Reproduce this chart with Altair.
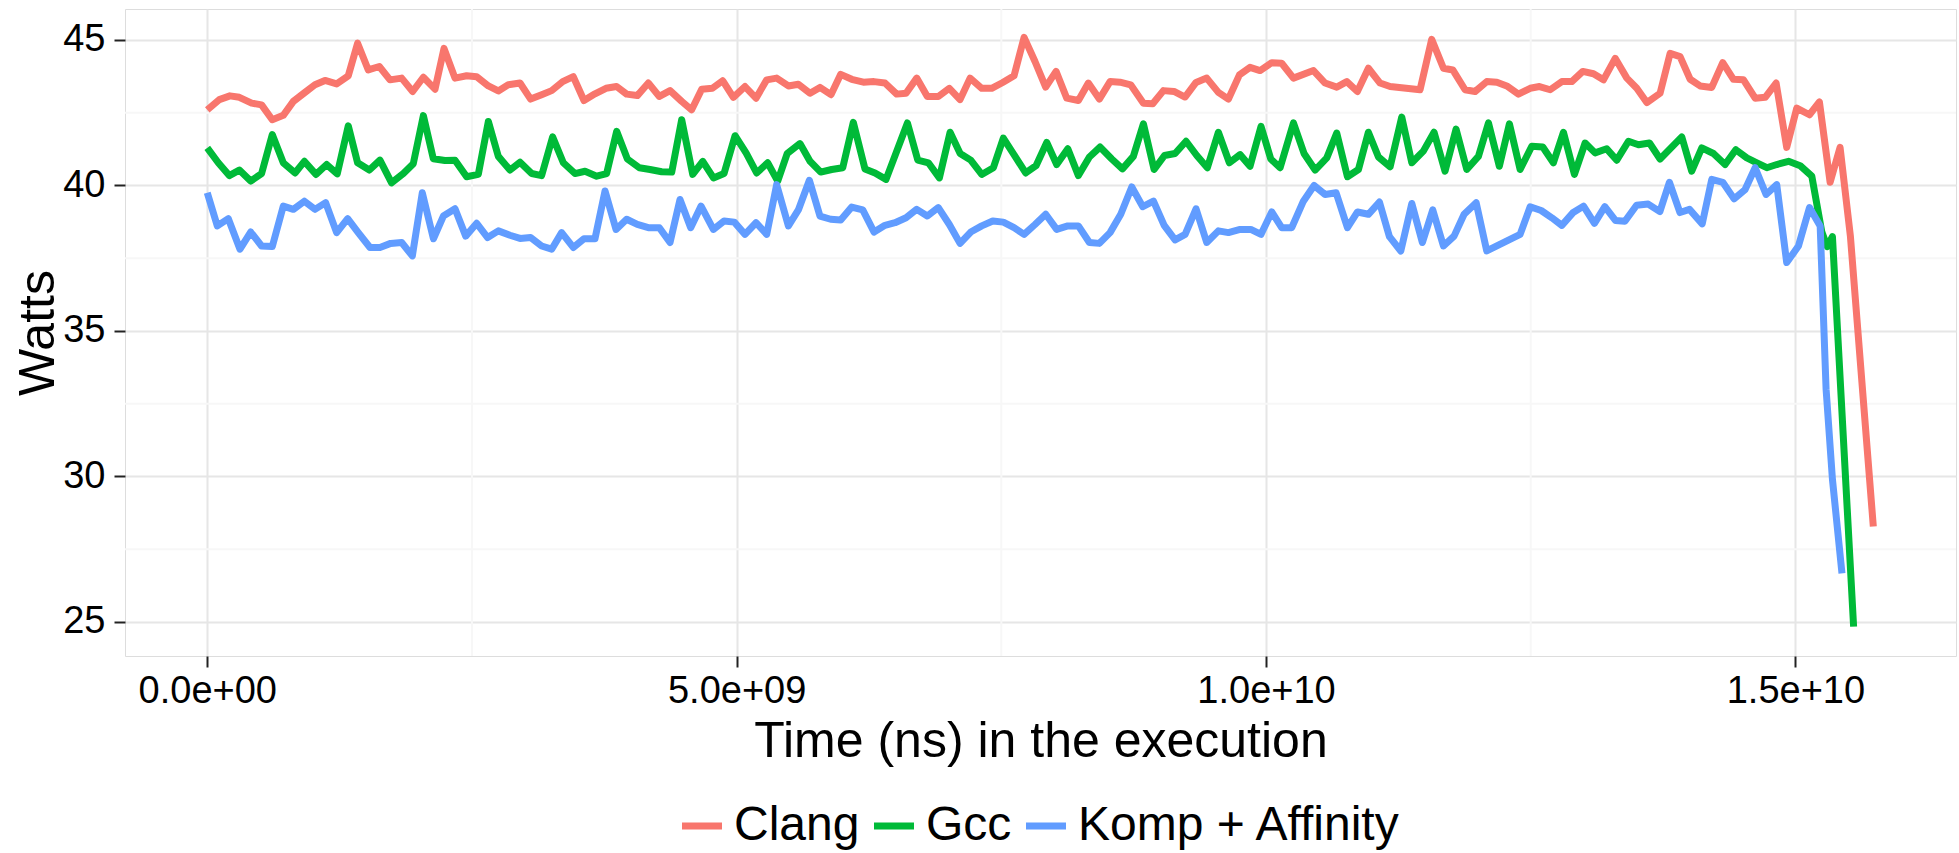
import altair as alt
import pandas as pd

# Series names and their ggplot-style hues
series_names = ["Clang", "Gcc", "Komp + Affinity"]
series_colors = ["#F8766D", "#00BA38", "#619CFF"]

# Sample times (in units of 1e9 ns) and measured power (W) per compiler
clang_t = [0.000, 0.114, 0.214, 0.303, 0.419, 0.513, 0.614, 0.718, 0.813, 0.923,
           1.017, 1.112, 1.222, 1.332, 1.420, 1.521, 1.625, 1.726, 1.836, 1.940,
           2.041, 2.151, 2.236, 2.340, 2.450, 2.545, 2.655, 2.749, 2.843, 2.954,
           3.054, 3.158, 3.253, 3.357, 3.457, 3.558, 3.662, 3.766, 3.866, 3.961,
           4.062, 4.166, 4.270, 4.371, 4.481, 4.575, 4.670, 4.771, 4.868, 4.969,
           5.079, 5.183, 5.284, 5.378, 5.489, 5.583, 5.693, 5.787, 5.891, 5.983,
           6.087, 6.197, 6.297, 6.401, 6.512, 6.600, 6.701, 6.801, 6.905, 7.009,
           7.110, 7.205, 7.315, 7.409, 7.513, 7.620, 7.715, 7.818, 7.919, 8.017,
           8.118, 8.228, 8.322, 8.426, 8.527, 8.621, 8.722, 8.842, 8.930, 9.031,
           9.131, 9.235, 9.339, 9.440, 9.550, 9.645, 9.749, 9.849, 9.944, 10.054,
           10.148, 10.259, 10.448, 10.558, 10.668, 10.763, 10.863, 10.967, 11.077, 11.172,
           11.455, 11.565, 11.676, 11.764, 11.880, 11.975, 12.085, 12.180, 12.274, 12.384,
           12.495, 12.583, 12.684, 12.794, 12.888, 12.992, 13.093, 13.187, 13.298, 13.408,
           13.502, 13.597, 13.722, 13.817, 13.911, 14.006, 14.100, 14.210, 14.314, 14.415,
           14.510, 14.620, 14.715, 14.818, 14.918, 15.013, 15.133, 15.227, 15.328, 15.422,
           15.520, 15.736]
clang_w = [42.60, 42.95, 43.08, 43.03, 42.83, 42.77, 42.26, 42.41, 42.89, 43.20,
           43.46, 43.61, 43.49, 43.77, 44.89, 43.97, 44.09, 43.63, 43.69, 43.23,
           43.72, 43.31, 44.71, 43.69, 43.77, 43.74, 43.42, 43.25, 43.46, 43.52,
           42.97, 43.12, 43.26, 43.57, 43.74, 42.92, 43.15, 43.34, 43.40, 43.14,
           43.09, 43.52, 43.06, 43.26, 42.89, 42.60, 43.31, 43.34, 43.60, 43.03,
           43.40, 43.00, 43.63, 43.69, 43.42, 43.48, 43.17, 43.37, 43.12, 43.82,
           43.65, 43.55, 43.57, 43.52, 43.14, 43.17, 43.69, 43.06, 43.06, 43.34,
           42.95, 43.69, 43.34, 43.34, 43.54, 43.77, 45.09, 44.26, 43.38, 43.92,
           43.00, 42.92, 43.52, 42.97, 43.57, 43.55, 43.46, 42.83, 42.81, 43.26,
           43.23, 43.04, 43.54, 43.69, 43.20, 42.97, 43.80, 44.06, 43.95, 44.22,
           44.20, 43.69, 43.95, 43.52, 43.38, 43.57, 43.23, 44.03, 43.52, 43.40,
           43.29, 45.02, 44.03, 43.97, 43.29, 43.23, 43.57, 43.55, 43.42, 43.14,
           43.34, 43.40, 43.29, 43.57, 43.57, 43.92, 43.84, 43.63, 44.37, 43.69,
           43.34, 42.85, 43.17, 44.54, 44.43, 43.65, 43.42, 43.37, 44.22, 43.65,
           43.63, 43.00, 43.03, 43.52, 41.31, 42.66, 42.43, 42.87, 40.11, 41.31,
           38.24, 28.28]

gcc_t = [0.000, 0.104, 0.208, 0.303, 0.410, 0.513, 0.614, 0.718, 0.829, 0.917,
         1.027, 1.128, 1.228, 1.332, 1.420, 1.531, 1.631, 1.741, 1.852, 1.946,
         2.041, 2.135, 2.245, 2.340, 2.450, 2.560, 2.655, 2.749, 2.859, 2.954,
         3.064, 3.158, 3.262, 3.363, 3.473, 3.568, 3.678, 3.772, 3.867, 3.968,
         4.081, 4.182, 4.292, 4.387, 4.481, 4.585, 4.680, 4.781, 4.881, 4.985,
         5.089, 5.189, 5.293, 5.388, 5.478, 5.598, 5.693, 5.794, 5.898, 6.002,
         6.102, 6.212, 6.307, 6.411, 6.613, 6.711, 6.811, 6.915, 7.016, 7.111,
         7.211, 7.315, 7.425, 7.519, 7.630, 7.730, 7.828, 7.929, 8.023, 8.128,
         8.228, 8.332, 8.432, 8.543, 8.644, 8.747, 8.842, 8.943, 9.041, 9.141,
         9.245, 9.346, 9.446, 9.550, 9.654, 9.755, 9.849, 9.953, 10.045, 10.133,
         10.259, 10.359, 10.464, 10.574, 10.668, 10.769, 10.873, 10.967, 11.062, 11.172,
         11.282, 11.377, 11.486, 11.587, 11.691, 11.795, 11.896, 12.006, 12.101, 12.204,
         12.299, 12.400, 12.510, 12.614, 12.714, 12.809, 12.913, 13.014, 13.108, 13.218,
         13.313, 13.423, 13.518, 13.622, 13.722, 13.927, 14.021, 14.116, 14.226, 14.336,
         14.437, 14.541, 14.636, 14.730, 14.824, 14.935, 15.045, 15.155, 15.250, 15.300,
         15.350, 15.550]
gcc_w = [41.29, 40.78, 40.34, 40.53, 40.15, 40.41, 41.75, 40.78, 40.43, 40.83,
         40.38, 40.72, 40.40, 42.05, 40.78, 40.53, 40.87, 40.09, 40.41, 40.75,
         42.40, 40.92, 40.86, 40.87, 40.30, 40.38, 42.20, 41.00, 40.53, 40.80,
         40.41, 40.34, 41.67, 40.78, 40.41, 40.49, 40.32, 40.41, 41.86, 40.91,
         40.61, 40.55, 40.47, 40.46, 42.26, 40.38, 40.83, 40.26, 40.41, 41.71,
         41.12, 40.43, 40.78, 40.15, 41.10, 41.44, 40.83, 40.46, 40.55, 40.61,
         42.17, 40.57, 40.43, 40.21, 42.15, 40.87, 40.78, 40.26, 41.83, 41.10,
         40.87, 40.38, 40.61, 41.63, 41.00, 40.43, 40.68, 41.48, 40.72, 41.26,
         40.34, 40.98, 41.32, 40.91, 40.57, 41.00, 42.12, 40.55, 41.03, 41.10,
         41.52, 41.03, 40.61, 41.83, 40.78, 41.06, 40.66, 42.03, 40.91, 40.61,
         42.15, 41.10, 40.53, 40.95, 41.80, 40.30, 40.55, 41.83, 40.98, 40.64,
         42.35, 40.78, 41.18, 41.83, 40.49, 41.94, 40.55, 41.00, 42.15, 40.66,
         42.12, 40.55, 41.35, 41.32, 40.78, 41.83, 40.38, 41.46, 41.12, 41.26,
         40.87, 41.52, 41.40, 41.46, 40.91, 41.67, 40.49, 41.29, 41.10, 40.72,
         41.23, 40.95, 40.78, 40.61, 40.72, 40.83, 40.68, 40.32, 38.40, 37.90,
         38.24, 24.84]

komp_t = [0.000, 0.095, 0.199, 0.309, 0.410, 0.513, 0.614, 0.718, 0.813, 0.917,
          1.017, 1.118, 1.222, 1.326, 1.426, 1.537, 1.631, 1.732, 1.836, 1.937,
          2.031, 2.136, 2.230, 2.340, 2.441, 2.545, 2.648, 2.749, 2.859, 2.954,
          3.054, 3.158, 3.253, 3.347, 3.457, 3.558, 3.662, 3.757, 3.861, 3.961,
          4.062, 4.166, 4.270, 4.371, 4.465, 4.566, 4.664, 4.780, 4.881, 4.978,
          5.079, 5.183, 5.284, 5.378, 5.489, 5.583, 5.687, 5.787, 5.888, 5.983,
          6.087, 6.191, 6.298, 6.401, 6.496, 6.600, 6.701, 6.801, 6.905, 7.009,
          7.110, 7.211, 7.315, 7.419, 7.519, 7.620, 7.715, 7.818, 7.919, 8.023,
          8.128, 8.228, 8.332, 8.426, 8.527, 8.628, 8.732, 8.836, 8.937, 9.038,
          9.141, 9.236, 9.339, 9.440, 9.550, 9.645, 9.755, 9.856, 9.953, 10.054,
          10.148, 10.243, 10.353, 10.454, 10.558, 10.662, 10.769, 10.864, 10.967, 11.071,
          11.166, 11.273, 11.377, 11.477, 11.575, 11.676, 11.776, 11.871, 11.985, 12.085,
          12.400, 12.495, 12.599, 12.700, 12.794, 12.898, 12.999, 13.102, 13.200, 13.300,
          13.390, 13.500, 13.610, 13.720, 13.810, 13.910, 14.000, 14.120, 14.210, 14.314,
          14.421, 14.525, 14.620, 14.723, 14.824, 14.918, 15.029, 15.133, 15.234, 15.290,
          15.350, 15.440]
komp_w = [39.75, 38.61, 38.86, 37.81, 38.40, 37.92, 37.90, 39.29, 39.18, 39.46,
          39.18, 39.41, 38.38, 38.86, 38.38, 37.87, 37.87, 38.01, 38.04, 37.58,
          39.75, 38.17, 38.95, 39.20, 38.26, 38.70, 38.21, 38.44, 38.29, 38.18,
          38.21, 37.92, 37.81, 38.38, 37.87, 38.17, 38.17, 39.81, 38.49, 38.84,
          38.66, 38.55, 38.55, 38.04, 39.52, 38.55, 39.29, 38.49, 38.78, 38.74,
          38.32, 38.72, 38.32, 40.03, 38.61, 39.16, 40.18, 38.95, 38.84, 38.81,
          39.26, 39.16, 38.40, 38.63, 38.72, 38.89, 39.18, 38.95, 39.24, 38.66,
          38.01, 38.40, 38.61, 38.78, 38.74, 38.55, 38.32, 38.66, 39.01, 38.49,
          38.61, 38.61, 38.04, 38.01, 38.38, 39.01, 39.95, 39.27, 39.46, 38.63,
          38.13, 38.32, 39.20, 38.04, 38.44, 38.38, 38.49, 38.49, 38.32, 39.09,
          38.55, 38.55, 39.46, 40.00, 39.69, 39.75, 38.55, 39.09, 39.01, 39.43,
          38.24, 37.75, 39.38, 38.04, 39.16, 37.92, 38.26, 39.01, 39.41, 37.75,
          38.32, 39.27, 39.14, 38.89, 38.63, 39.06, 39.29, 38.70, 39.27, 38.80,
          38.77, 39.32, 39.36, 39.10, 40.11, 39.07, 39.18, 38.68, 40.21, 40.11,
          39.54, 39.86, 40.61, 39.69, 40.03, 37.35, 37.92, 39.24, 38.61, 33.00,
          29.90, 26.67]

# Axis ticks, labels and minor grid positions
x_ticks = [0, 5e9, 1e10, 1.5e10]
x_tick_labels = ["0.0e+00", "5.0e+09", "1.0e+10", "1.5e+10"]
y_ticks = [25, 30, 35, 40, 45]
x_minor = [2.5e9, 7.5e9, 1.25e10]
y_minor = [27.5, 32.5, 37.5, 42.5]

rows = []
for name, ts, ws in zip(series_names, [clang_t, gcc_t, komp_t], [clang_w, gcc_w, komp_w]):
    for t, w in zip(ts, ws):
        rows.append({"time": t * 1e9, "watts": w, "compiler": name})
df = pd.DataFrame(rows)

FONT = "Liberation Sans"
W, H = 1831, 647
x_scale = alt.Scale(domain=[-0.777e9, 16.517e9], nice=False, zero=False)
y_scale = alt.Scale(domain=[23.83, 46.065], nice=False, zero=False)

label_expr = " : ".join(
    f"datum.value == {v:.0f} ? '{lab}'" for v, lab in zip(x_ticks, x_tick_labels)
) + " : ''"

x_axis = alt.Axis(
    values=x_ticks, labelExpr=label_expr, grid=True, gridColor="#e6e6e6", gridWidth=2,
    tickSize=11, tickColor="#222222", tickWidth=2, domain=False,
    labelFontSize=38, labelColor="#000000", labelPadding=5, labelFont=FONT,
    titleFontSize=50, titleFontWeight="normal", titleColor="#000000", titleFont=FONT,
    titleY=100, titleBaseline="alphabetic",
)
y_axis = alt.Axis(
    values=y_ticks, grid=True, gridColor="#e6e6e6", gridWidth=2,
    tickSize=11, tickColor="#222222", tickWidth=2, domain=False,
    labelFontSize=38, labelColor="#000000", labelPadding=9, labelFont=FONT,
    titleFontSize=50, titleFontWeight="normal", titleColor="#000000", titleFont=FONT,
    titleX=-72, titleY=323.5, titleBaseline="alphabetic", titleAngle=270,
)
x_title = "Time (ns) in the execution"
y_title = "Watts"

# Faint minor grid lines halfway between the major ticks
minor_h = alt.Chart(pd.DataFrame({"watts": y_minor})).mark_rule(
    color="#f7f7f7", strokeWidth=2
).encode(y=alt.Y("watts:Q", scale=y_scale, axis=y_axis, title=y_title))

minor_v = alt.Chart(pd.DataFrame({"time": x_minor})).mark_rule(
    color="#f7f7f7", strokeWidth=2
).encode(x=alt.X("time:Q", scale=x_scale, axis=x_axis, title=x_title))

lines = alt.Chart(df).mark_line(
    strokeWidth=7, strokeCap="butt", strokeJoin="round"
).encode(
    x=alt.X("time:Q", scale=x_scale, axis=x_axis, title=x_title),
    y=alt.Y("watts:Q", scale=y_scale, axis=y_axis, title=y_title),
    color=alt.Color(
        "compiler:N",
        scale=alt.Scale(domain=series_names, range=series_colors),
        legend=alt.Legend(
            title=None, orient="none", legendX=553, legendY=793,
            direction="horizontal", symbolType="stroke", symbolSize=1600,
            symbolStrokeWidth=7, labelFontSize=48, labelFont=FONT,
            labelColor="#000000", labelOffset=8, columnPadding=0,
            labelLimit=600, padding=0,
        ),
    ),
)

chart = alt.layer(minor_h, minor_v, lines).properties(
    width=W, height=H,
    autosize=alt.AutoSizeParams(type="none"),
    padding={"left": 125, "top": 9, "right": 3, "bottom": 197},
).configure_view(
    stroke="#7f7f7f", strokeWidth=2
).configure(background="white")

chart.save("out.html", embed_options={"renderer": "svg", "actions": False})
